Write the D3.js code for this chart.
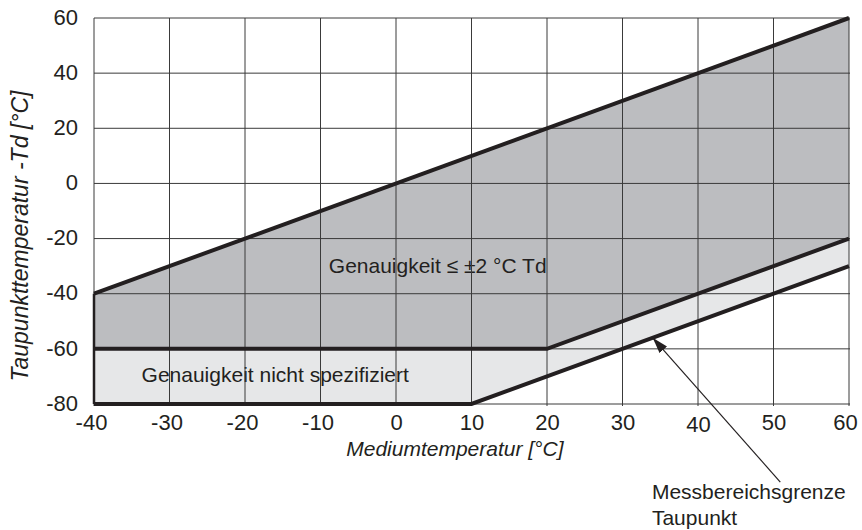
<!DOCTYPE html>
<html>
<head>
<meta charset="utf-8">
<script src="https://cdn.jsdelivr.net/npm/d3@7"></script>
<style>
  html, body { margin: 0; padding: 0; background: #fff; }
  svg { display: block; font-family: "Liberation Sans", Arial, Helvetica, sans-serif; }
</style>
</head>
<body>
<svg id="chart" width="862" height="530"></svg>
<script>
// ---- data ----
const xTicks = [-40, -30, -20, -10, 0, 10, 20, 30, 40, 50, 60];
const yTicks = [-80, -60, -40, -20, 0, 20, 40, 60];
// upper limit: Td = T
const upperLine = [[-40, -40], [60, 60]];
// lower limit of specified accuracy
const midLine = [[-40, -60], [20, -60], [60, -20]];
// measuring range limit (dew point)
const lowerLine = [[-40, -80], [10, -80], [60, -30]];
const xTitle = "Mediumtemperatur [°C]";
const yTitle = "Taupunkttemperatur -Td [°C]";
const labelSpecified = "Genauigkeit ≤ ±2 °C Td";
const labelUnspecified = "Genauigkeit nicht spezifiziert";
const annotationLines = ["Messbereichsgrenze", "Taupunkt"];
const arrowTip = [34, -56];
const arrowTail = [50.9, -108.3];

// ---- layout ----
const svg = d3.select("#chart");
const x = d3.scaleLinear().domain([-40, 60]).range([94, 849]);
const y = d3.scaleLinear().domain([-80, 60]).range([404, 18]);
const line = d3.line().x(d => x(d[0])).y(d => y(d[1]));
const fmt = d => String(d);

const darkPoly = upperLine.concat(midLine.slice().reverse());
const lightPoly = midLine.concat(lowerLine.slice().reverse());

svg.append("path").attr("d", line(darkPoly) + "Z").attr("fill", "#bcbdc0");
svg.append("path").attr("d", line(lightPoly) + "Z").attr("fill", "#e6e7e8");

// inner labels (drawn below grid, as in reference)
svg.append("text")
  .attr("x", x(-8.9)).attr("y", y(-32.5))
  .attr("font-size", 21).attr("fill", "#231f20")
  .text(labelSpecified);
svg.append("text")
  .attr("x", x(-33.7)).attr("y", y(-71.9))
  .attr("font-size", 21).attr("fill", "#231f20")
  .text(labelUnspecified);

// grid
const grid = svg.append("g").attr("stroke", "#3a3a3a").attr("stroke-width", 1);
grid.selectAll("line.v").data(xTicks).join("line")
  .attr("x1", d => x(d)).attr("x2", d => x(d))
  .attr("y1", y(60)).attr("y2", y(-80) + 2);
grid.selectAll("line.h").data(yTicks).join("line")
  .attr("y1", d => y(d)).attr("y2", d => y(d))
  .attr("x1", x(-40)).attr("x2", x(60) + 1);

// left edge of shaded region
svg.append("line")
  .attr("x1", x(-40)).attr("x2", x(-40))
  .attr("y1", y(-40)).attr("y2", y(-80))
  .attr("stroke", "#231f20").attr("stroke-width", 2.5);

// thick boundary lines
[upperLine, midLine, lowerLine].forEach(l => {
  svg.append("path").attr("d", line(l))
    .attr("fill", "none").attr("stroke", "#231f20")
    .attr("stroke-width", 4).attr("stroke-linejoin", "miter");
});

// axes (labels only)
const xAxis = d3.axisBottom(x).tickValues(xTicks).tickSize(0).tickPadding(0)
  .tickFormat(fmt);
const gx = svg.append("g").attr("transform", `translate(0,${y(-80)})`).call(xAxis);
gx.select(".domain").remove();
gx.selectAll("text")
  .attr("font-size", 22).attr("fill", "#231f20")
  .attr("font-family", null)
  .attr("dy", null).attr("y", 26)
  .attr("dx", d => d === 60 ? -4 : (d < 0 ? -3 : 0))
  .attr("transform", d => d === 40 ? "translate(0,2)" : null);

const yAxis = d3.axisLeft(y).tickValues(yTicks).tickSize(0).tickPadding(16)
  .tickFormat(fmt);
const gy = svg.append("g").attr("transform", `translate(${x(-40)},0)`).call(yAxis);
gy.select(".domain").remove();
gy.selectAll("text")
  .attr("font-size", 22).attr("fill", "#231f20")
  .attr("font-family", null)
  .attr("dy", "0.28em");

// axis titles
svg.append("text")
  .attr("x", x(7.8)).attr("y", 456)
  .attr("text-anchor", "middle").attr("font-size", 21)
  .attr("font-style", "italic").attr("fill", "#231f20")
  .text(xTitle);
svg.append("text")
  .attr("transform", `translate(28,${(y(-80) + y(60)) / 2 + 25}) rotate(-90)`)
  .attr("text-anchor", "middle").attr("font-size", 23)
  .attr("font-style", "italic").attr("fill", "#231f20")
  .text(yTitle);

// annotation arrow
svg.append("defs").append("marker")
  .attr("id", "arrow").attr("viewBox", "0 0 16 10")
  .attr("refX", 16).attr("refY", 5)
  .attr("markerWidth", 16).attr("markerHeight", 10)
  .attr("markerUnits", "userSpaceOnUse")
  .attr("orient", "auto")
  .append("path").attr("d", "M0,0 L16,5 L0,10 Z").attr("fill", "#231f20");
svg.append("line")
  .attr("x1", x(arrowTail[0])).attr("y1", y(arrowTail[1]))
  .attr("x2", x(arrowTip[0])).attr("y2", y(arrowTip[1]))
  .attr("stroke", "#231f20").attr("stroke-width", 1.2)
  .attr("marker-end", "url(#arrow)");

svg.append("g").selectAll("text").data(annotationLines).join("text")
  .attr("x", x(33.9))
  .attr("y", (d, i) => 499 + i * 26)
  .attr("font-size", 21).attr("fill", "#231f20")
  .text(d => d);
</script>
</body>
</html>
